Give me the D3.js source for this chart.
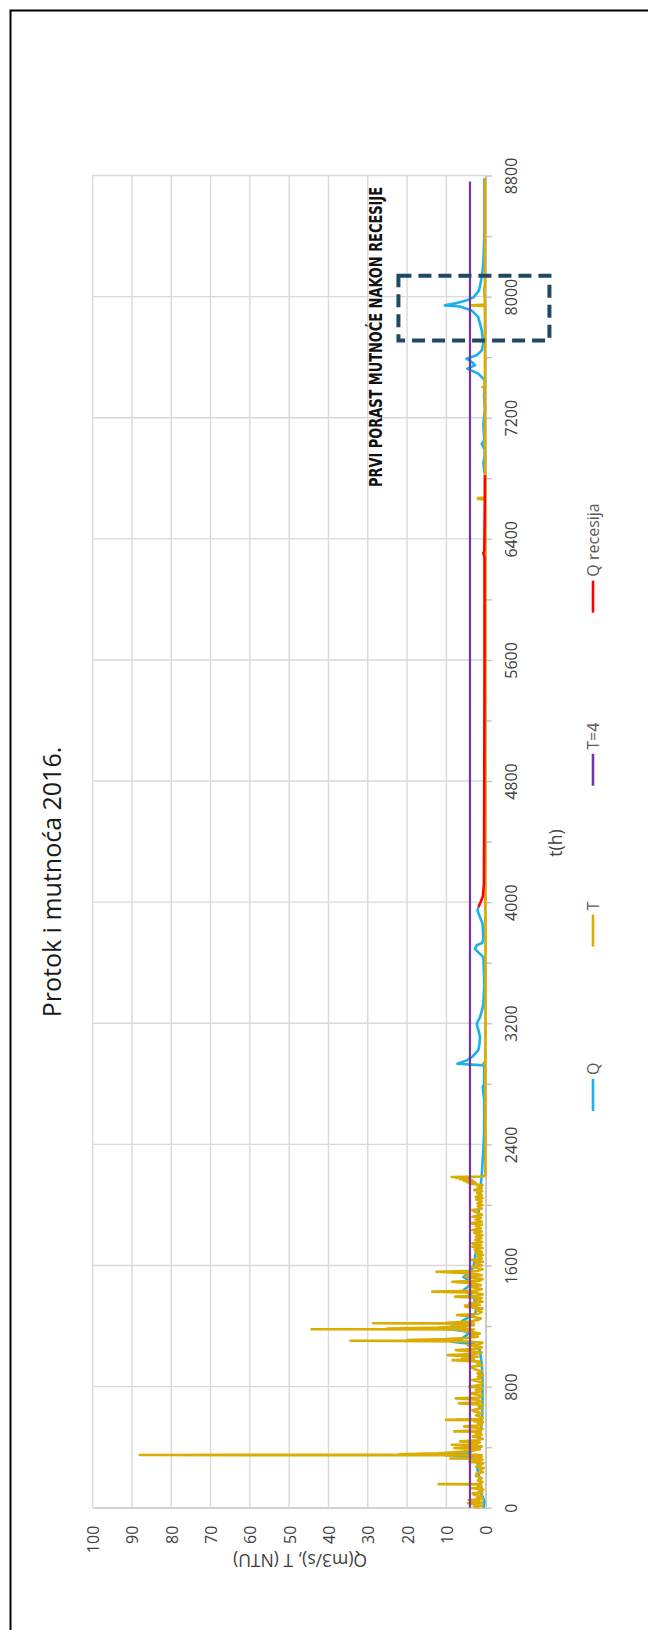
<!DOCTYPE html>
<html><head><meta charset="utf-8">
<script src="https://cdn.jsdelivr.net/npm/d3@7"></script>
<style>body{margin:0;background:#fff}svg{display:block}</style>
</head><body>
<svg id="c" width="648" height="1630"></svg>
<script>
// ---------- DATA ----------
const chartTitle = "Protok i mutnoća 2016.";
const timeAxisTitle = "t(h)";
const valueAxisTitle = "Q(m3/s), T (NTU)";
const annotationText = "PRVI PORAST MUTNOĆE NAKON RECESIJE";
const timeLabelTicks = [0,800,1600,2400,3200,4000,4800,5600,6400,7200,8000,8800];
const timeMinorTicks = [0,400,800,1200,1600,2000,2400,2800,3200,3600,4000,4400,4800,5200,5600,6000,6400,6800,7200,7600,8000,8400,8800];
const valueTicks = [0,10,20,30,40,50,60,70,80,90,100];
const seriesNames = ["Q","T","T=4","Q recesija"];
const seriesColors = ["#1ab2ee","#dbad00","#7434a6","#ff0000"];

// Q (m3/s): [t(h), value]
const flowQ = [[0,0.5],[50,0.4],[95,1.2],[150,1.3],[200,1.6],[250,2.1],[290,2.0],[320,1.5],[340,2.0],[346,10.3],[352,7],[360,4.5],[375,3.5],[400,2.5],[450,1.8],[520,1.2],[600,0.9],[700,0.8],[843,0.8],[950,1.0],[1040,1.5],[1080,3.0],[1096,8.7],[1110,6.5],[1140,4.8],[1160,4.4],[1170,6.5],[1183,10.8],[1200,8],[1220,6.5],[1238,5.7],[1260,4.0],[1282,2.7],[1326,2.3],[1359,2.7],[1392,3.1],[1420,4.5],[1436,5.7],[1460,4.5],[1480,3.6],[1505,4.5],[1524,5.7],[1546,4.4],[1590,3.1],[1656,2.7],[1744,2.1],[1820,2.0],[1920,1.9],[2074,1.45],[2200,1.0],[2361,0.6],[2480,0.4],[2581,0.35],[2700,0.4],[2779,0.77],[2800,0.4],[2922,0.35],[2933,7.2],[2955,4.8],[2977,3.5],[3021,1.9],[3060,1.6],[3109,1.45],[3160,1.9],[3197,2.3],[3241,1.45],[3290,0.9],[3329,0.6],[3461,0.35],[3637,0.6],[3690,2.7],[3715,2.3],[3730,0.9],[3760,0.6],[3857,0.8],[3901,1.45],[3945,2.1],[3968,1.85],[5000,null],[6820,0.18],[6897,0.6],[6940,0.3],[6985,0.2],[7029,1.0],[7050,0.3],[7073,0.4],[7161,0.6],[7249,0.2],[7337,0.4],[7447,0.2],[7491,1.9],[7524,4.7],[7546,2.7],[7568,3.5],[7590,4.9],[7612,2.3],[7645,1.0],[7689,0.6],[7777,1.0],[7865,1.9],[7909,3.6],[7935,6.6],[7942,10.4],[7957,7.4],[7975,4.9],[7997,3.0],[8041,1.7],[8129,1.0],[8217,0.6],[8415,0.35],[8784,0.35]];

// T (NTU): [t(h), value]
const turbidityT = [[0,1.5],[8,3.0],[15,0.8],[22,2.5],[29,4.5],[33,1.0],[40,2.0],[51,4.3],[56,0.6],[65,2.2],[75,1.0],[85,3.0],[95,3.3],[100,0.8],[110,1.8],[120,0.6],[128,3.5],[135,1.0],[145,2.0],[154,1.2],[156,12.0],[158,1.5],[170,0.8],[180,2.0],[195,1.0],[210,2.5],[226,2.3],[235,0.7],[250,1.5],[262,0.5],[270,2.5],[285,1.2],[295,0.6],[303,4.2],[310,1.5],[318,0.8],[323,2.0],[325,9.0],[328,2.0],[338,1.0],[344,3.0],[346,1.0],[348,88],[350,2.0],[352,22],[356,17],[360,12],[366,8],[372,5.5],[380,3.0],[386,1.5],[394,8.0],[398,2.0],[405,1.0],[416,8.6],[420,3],[430,1.5],[438,6.5],[445,2],[455,0.8],[471,3.3],[480,1.0],[490,2.5],[502,1.2],[504,8.0],[510,2.0],[520,0.8],[530,3.0],[537,5.5],[545,1.0],[555,2.0],[565,0.7],[572,3.0],[578,1.0],[580,10.1],[585,1.5],[595,0.8],[610,2.5],[625,1.0],[635,2.8],[645,3.4],[655,0.9],[668,1.8],[680,0.7],[689,6.8],[695,2.0],[705,1.0],[715,3.0],[722,7.6],[728,1.5],[740,0.8],[755,3.8],[765,1.2],[780,2.5],[790,0.7],[800,4.2],[810,1.5],[825,0.8],[843,3.4],[850,1.0],[865,2.0],[875,0.7],[887,2.1],[900,1.0],[915,2.8],[931,3.8],[940,0.9],[955,2.2],[965,1.5],[975,8.4],[980,3.0],[990,6.0],[998,2.0],[1008,9.7],[1015,3.0],[1025,1.0],[1041,7.6],[1050,2.0],[1060,1.0],[1074,4.6],[1080,1.5],[1090,0.8],[1098,4.0],[1103,34.4],[1106,6.0],[1108,20],[1114,10],[1120,5],[1130,2],[1140,4],[1150,1.5],[1160,3.5],[1170,6],[1177,3],[1179,44.3],[1181,4],[1183,25],[1190,12],[1198,6],[1205,3],[1212,8],[1216,3],[1218,28.7],[1220,4],[1222,10],[1230,4],[1240,2],[1250,1.2],[1262,3.5],[1273,7.3],[1280,2.0],[1292,1.0],[1305,2.5],[1315,0.8],[1328,5.1],[1335,5.3],[1340,1.5],[1350,4.2],[1360,0.8],[1375,2.5],[1385,1.0],[1394,7.8],[1400,2.0],[1410,0.8],[1420,3.0],[1427,13.6],[1432,2.5],[1445,1.0],[1460,4.2],[1470,1.2],[1480,2.5],[1493,8.5],[1500,1.5],[1510,0.8],[1526,5.1],[1535,1.0],[1545,2.5],[1559,12.5],[1565,2.0],[1575,0.8],[1592,3.4],[1600,1.0],[1615,2.5],[1625,0.7],[1636,3.8],[1645,1.0],[1660,2.0],[1670,0.7],[1680,2.5],[1690,1.0],[1705,2.8],[1715,0.8],[1724,3.4],[1735,1.2],[1746,3.4],[1755,0.9],[1770,2.6],[1780,1.1],[1790,2.5],[1800,0.8],[1815,2.9],[1825,1.0],[1834,3.4],[1845,1.2],[1860,2.5],[1870,0.9],[1878,3.8],[1890,1.0],[1905,2.6],[1915,1.2],[1922,3.4],[1935,0.9],[1950,2.3],[1966,3.4],[1975,1.0],[1990,2.0],[2000,0.8],[2010,2.1],[2022,1.0],[2035,2.4],[2045,0.8],[2054,2.5],[2065,1.0],[2080,2.2],[2090,0.9],[2098,2.9],[2110,1.0],[2120,2.0],[2130,0.8],[2142,4.2],[2146,2.5],[2150,4.8],[2155,3.0],[2160,5.6],[2165,3.5],[2170,6.5],[2174,4.0],[2178,7.5],[2181,5.0],[2184,8.7],[2188,0.5],[2200,0.1],[2600,0.1],[2930,0.1],[2935,0.6],[2945,0.1],[3500,0.05],[4000,0.1],[5000,0.1],[6000,0.1],[6660,0.1],[6664,2.0],[6670,2.0],[6673,0.1],[7000,0.2],[7400,0.2],[7403,0.8],[7408,0.2],[7938,0.2],[7942,3.5],[7948,0.2],[8060,0.4],[8068,0.2],[8784,0.2]];

// T=4 threshold
const thresholdT4 = [[0,4],[8760,4]];

// Q recesija
const flowRecession = [[3968,1.85],[4000,1.3],[4040,0.7],[4120,0.45],[4500,0.4],[5000,0.35],[5600,0.3],[6000,0.3],[6280,0.3],[6304,0.6],[6320,0.35],[6600,0.25],[6820,0.2]];

const allSeries = [flowQ, turbidityT, thresholdT4, flowRecession];

// ---------- LAYOUT ----------
const svg = d3.select("#c");
const X0 = 92.6, X1 = 485.7, Y0 = 1507.7, Y1 = 175.5;
const xV = d3.scaleLinear().domain([0,100]).range([X1, X0]);
const yT = d3.scaleLinear().domain([0,8800]).range([Y0, Y1]);
const FONT = "'Open Sans', 'Noto Sans', sans-serif";

svg.append("rect").attr("x",10.5).attr("y",10.5).attr("width",900).attr("height",1900)
  .attr("fill","#fff").attr("stroke","#000").attr("stroke-width",2);

// gridlines
const grid = svg.append("g");
grid.selectAll("line.v").data(valueTicks).join("line").attr("class","v")
  .attr("x1",d=>xV(d)).attr("x2",d=>xV(d)).attr("y1",Y0).attr("y2",Y1)
  .attr("stroke","#d9d9d9").attr("stroke-width",1.4);
grid.selectAll("line.h").data(timeLabelTicks).join("line").attr("class","h")
  .attr("x1",X0).attr("x2",X1).attr("y1",d=>yT(d)).attr("y2",d=>yT(d))
  .attr("stroke","#d9d9d9").attr("stroke-width",1.4);

// time axis (right side)
const tAxis = d3.axisRight(yT).tickValues(timeMinorTicks).tickSize(6).tickSizeOuter(0)
  .tickFormat(d => timeLabelTicks.includes(d) ? String(d) : "");
const gt = svg.append("g").attr("transform",`translate(${X1},0)`).call(tAxis);
gt.select(".domain").attr("stroke","#bfbfbf").attr("stroke-width",1.4);
gt.selectAll(".tick line").attr("stroke","#bfbfbf").attr("stroke-width",1.4);
gt.selectAll(".tick text").attr("x",null).attr("dy",null)
  .attr("transform","translate(25.5,0) rotate(-90)")
  .attr("text-anchor","middle").attr("dominant-baseline","central")
  .attr("fill","#404040").style("font-family",FONT).style("font-size","16px");

// value axis (bottom)
const vAxis = d3.axisBottom(xV).tickValues(valueTicks).tickSize(0).tickSizeOuter(0);
const gv = svg.append("g").attr("transform",`translate(0,${Y0})`).call(vAxis);
gv.select(".domain").attr("stroke","#d0d0d0").attr("stroke-width",1.4);
gv.selectAll(".tick text").attr("y",null).attr("dy",null)
  .attr("transform","translate(0,18) rotate(-90)")
  .attr("text-anchor","end").attr("dominant-baseline","central")
  .attr("fill","#404040").style("font-family",FONT).style("font-size","16px");

// series
const line = d3.line().defined(d => d[1] != null).x(d => xV(d[1])).y(d => yT(d[0]));
const widths = [2.6, 2.6, 2.2, 2.6];
allSeries.forEach((s,i) => {
  svg.append("path").datum(s).attr("d",line).attr("fill","none")
    .attr("stroke",seriesColors[i]).attr("stroke-width",widths[i])
    .attr("stroke-linejoin","round");
});

// axis titles
svg.append("text").attr("transform","translate(555,843) rotate(-90)")
  .attr("text-anchor","middle").attr("dominant-baseline","central")
  .attr("fill","#404040").style("font-family",FONT).style("font-size","17.5px").text(timeAxisTitle);
svg.append("text").attr("transform","translate(300,1561) rotate(180)")
  .attr("text-anchor","middle").attr("dominant-baseline","central")
  .attr("fill","#404040").style("font-family",FONT).style("font-size","17.5px").text(valueAxisTitle);

// chart title
svg.append("text").attr("transform","translate(51,882) rotate(-90)")
  .attr("text-anchor","middle").attr("dominant-baseline","central")
  .attr("fill","#1a1a1a").style("font-family",FONT).style("font-size","25px").text(chartTitle);

// annotation
svg.append("text").attr("transform","translate(375,487) rotate(-90)")
  .attr("text-anchor","start").attr("dominant-baseline","central")
  .attr("fill","#111").style("font-family","'DejaVu Sans Condensed', 'Open Sans', sans-serif")
  .style("font-weight","bold").style("font-size","18px")
  .attr("textLength",300).attr("lengthAdjust","spacingAndGlyphs").text(annotationText);

svg.append("rect").attr("x",xV(22.2)).attr("y",yT(8137)).attr("width",151).attr("height",yT(7710)-yT(8137))
  .attr("fill","none").attr("stroke","#1d4a62").attr("stroke-width",4).attr("stroke-dasharray","13,7");

// legend
let yStart = 1111;
const LX = 593;
seriesNames.forEach((name,i) => {
  svg.append("line").attr("x1",LX).attr("x2",LX).attr("y1",yStart).attr("y2",yStart-32)
    .attr("stroke",seriesColors[i]).attr("stroke-width",2.6);
  const t = svg.append("text").attr("transform",`translate(${LX},${yStart-36}) rotate(-90)`)
    .attr("text-anchor","start").attr("dominant-baseline","central")
    .attr("fill","#595959").style("font-family",FONT).style("font-size","16px").text(name);
  const w = t.node().getComputedTextLength();
  yStart = yStart - 36 - w - (i === 2 ? 110 : 116);
});
</script>
</body></html>
